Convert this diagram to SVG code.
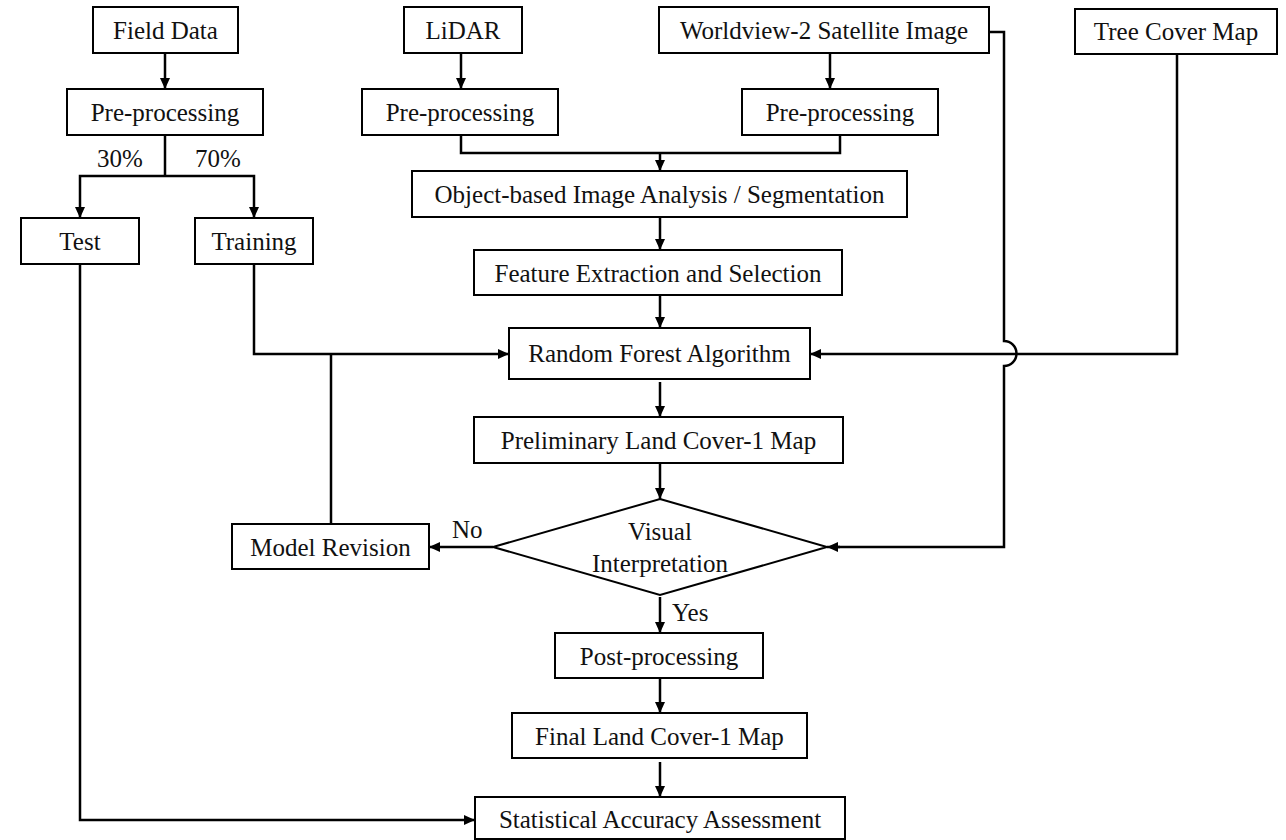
<svg xmlns="http://www.w3.org/2000/svg" width="1286" height="840" viewBox="0 0 1286 840">
<style>
.box{fill:#fff;stroke:#000;stroke-width:2}
.lbl{font-family:"Liberation Serif","Times New Roman",serif;font-size:25px;fill:#111;text-anchor:middle}
.note{font-family:"Liberation Serif","Times New Roman",serif;font-size:25px;fill:#111}
.con{fill:none;stroke:#000;stroke-width:2.5}
.arr{marker-end:url(#ah)}
</style>
<defs>
<marker id="ah" markerUnits="userSpaceOnUse" markerWidth="12" markerHeight="10" refX="11" refY="5" orient="auto">
<path d="M0,0 L11,5 L0,10 z" fill="#000"/>
</marker>
</defs>
<rect width="1286" height="840" fill="#fff"/>
<g id="connectors">
<path class="con arr" d="M165,53 V89"/>
<path class="con" d="M165,135 V176"/>
<path class="con arr" d="M165,176 H80 V218"/>
<path class="con arr" d="M165,176 H254 V218"/>
<path class="con arr" d="M461,53 V89"/>
<path class="con arr" d="M830,53 V89"/>
<path class="con" d="M461,135 V153 H840 V135"/>
<path class="con arr" d="M660,153 V171"/>
<path class="con arr" d="M660,217 V250"/>
<path class="con arr" d="M660,295 V328"/>
<path class="con arr" d="M254,264 V354 H509"/>
<path class="con" d="M331,524 V354"/>
<path class="con arr" d="M1177,54 V354 H810"/>
<path class="con" d="M989,32 H1004 V341 A12.5,12.5 0 0 1 1004,366 V547 H836" stroke-width="2.2"/>
<path class="con arr" d="M840,547 H827"/>
<path class="con arr" d="M660,382 V417"/>
<path class="con arr" d="M660,463 V499"/>
<path class="con arr" d="M493,547 H429"/>
<path class="con arr" d="M660,597 V633"/>
<path class="con arr" d="M660,678 V713"/>
<path class="con arr" d="M660,762 V797"/>
<path class="con arr" d="M80,264 V820 H475"/>
<text class="note" x="97" y="167">30%</text>
<text class="note" x="195" y="167">70%</text>
<text class="note" x="452" y="538">No</text>
<text class="note" x="672" y="621">Yes</text>
</g>
<g id="field-data"><rect class="box" x="93" y="7" width="145" height="46"/><text class="lbl" x="165.5" y="39">Field Data</text></g>
<g id="lidar"><rect class="box" x="404" y="7" width="118" height="46"/><text class="lbl" x="463" y="39">LiDAR</text></g>
<g id="worldview"><rect class="box" x="659" y="7" width="330" height="46"/><text class="lbl" x="824" y="39">Worldview-2 Satellite Image</text></g>
<g id="tree-cover"><rect class="box" x="1075" y="9" width="202" height="45"/><text class="lbl" x="1176" y="40">Tree Cover Map</text></g>
<g id="pre-field"><rect class="box" x="67" y="89" width="196" height="46"/><text class="lbl" x="165" y="121">Pre-processing</text></g>
<g id="pre-lidar"><rect class="box" x="362" y="89" width="196" height="46"/><text class="lbl" x="460" y="121">Pre-processing</text></g>
<g id="pre-wv"><rect class="box" x="742" y="89" width="196" height="46"/><text class="lbl" x="840" y="121">Pre-processing</text></g>
<g id="test"><rect class="box" x="21" y="218" width="118" height="46"/><text class="lbl" x="80" y="250">Test</text></g>
<g id="training"><rect class="box" x="195" y="218" width="118" height="46"/><text class="lbl" x="254" y="250">Training</text></g>
<g id="obia"><rect class="box" x="412" y="171" width="495" height="46"/><text class="lbl" x="659.5" y="203">Object-based Image Analysis / Segmentation</text></g>
<g id="feature"><rect class="box" x="474" y="250" width="368" height="45"/><text class="lbl" x="658" y="282">Feature Extraction and Selection</text></g>
<g id="random-forest"><rect class="box" x="509" y="328" width="301" height="51"/><text class="lbl" x="659.5" y="362">Random Forest Algorithm</text></g>
<g id="preliminary"><rect class="box" x="474" y="417" width="369" height="46"/><text class="lbl" x="658.5" y="449">Preliminary Land Cover-1 Map</text></g>
<g id="visual"><polygon class="box" points="660,499 827,547 660,595 493,547"/><text class="lbl" x="660" y="540">Visual</text><text class="lbl" x="660" y="572">Interpretation</text></g>
<g id="model-revision"><rect class="box" x="232" y="524" width="197" height="45"/><text class="lbl" x="330.5" y="556">Model Revision</text></g>
<g id="post"><rect class="box" x="555" y="633" width="208" height="45"/><text class="lbl" x="659" y="665">Post-processing</text></g>
<g id="final"><rect class="box" x="512" y="713" width="295" height="45"/><text class="lbl" x="659.5" y="745">Final Land Cover-1 Map</text></g>
<g id="stat"><rect class="box" x="475" y="797" width="370" height="42"/><text class="lbl" x="660" y="828">Statistical Accuracy Assessment</text></g>
</svg>
